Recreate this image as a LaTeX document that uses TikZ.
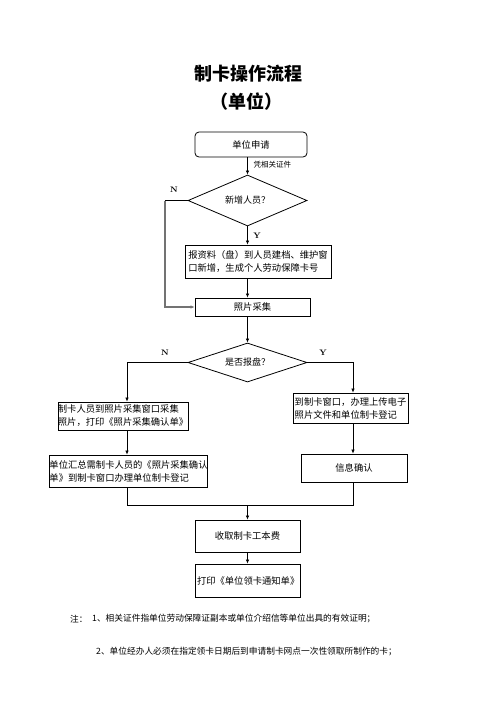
\documentclass[tikz,border=0pt]{standalone}
\usepackage{fontspec}
\newfontfamily\cjk{Noto Sans CJK SC}
\usetikzlibrary{shapes.geometric,arrows.meta}

\begin{document}
\begin{tikzpicture}[x=1pt,y=-1pt,
                    box/.style={draw, line width=0.8pt, inner sep=0pt, align=left,
                                font=\cjk\fontsize{9.3}{13}\selectfont},
                    decision/.style={draw, diamond, aspect=2.3, inner sep=0pt, line width=0.8pt,
                                     minimum width=119pt, font=\cjk\fontsize{9}{11}\selectfont},
                    line/.style={line width=0.7pt},
                    flow/.style={line, -{Latex[length=4pt,width=3.5pt]}},
                    tag/.style={font=\bfseries\fontsize{8}{9}\selectfont},
                    note/.style={anchor=west, inner sep=0pt, font=\cjk\fontsize{8.7}{10}\selectfont}]
  \useasboundingbox (0,0) rectangle (496,702);
  % title
  \node[font=\cjk\bfseries\fontsize{18}{20}\selectfont] (title) at (248,74) {制卡操作流程};
  \node[font=\cjk\bfseries\fontsize{18}{20}\selectfont] (subtitle) at (246,102) {（单位）};
  % steps
  \node[box, rounded corners=4pt, minimum width=112pt, minimum height=25pt] (apply) at (251,144.5) {单位申请};
  \node[anchor=west, font=\cjk\fontsize{7.5}{9}\selectfont] (proof) at (250,165) {凭相关证件};
  \node[decision, minimum height=51pt] (newp) at (247.5,200.5) {新增人员？};
  \node[box, minimum width=146pt, minimum height=33pt] (archive) at (258,261.5)
    {报资料（盘）到人员建档、维护窗\\口新增，生成个人劳动保障卡号};
  \node[box, minimum width=115pt, minimum height=18pt] (photo) at (252.5,307) {照片采集};
  \node[decision, minimum height=39pt] (disk) at (247.5,362.5) {是否报盘？};
  \node[box, minimum width=130pt, minimum height=28pt] (shoot) at (123,416)
    {制卡人员到照片采集窗口采集\\照片，打印《照片采集确认单》};
  \node[box, minimum width=157pt, minimum height=32pt] (collect) at (128.5,471)
    {单位汇总需制卡人员的《照片采集确认\\单》到制卡窗口办理单位制卡登记};
  \node[box, minimum width=115pt, minimum height=30pt] (upload) at (350.5,408)
    {到制卡窗口，办理上传电子\\照片文件和单位制卡登记};
  \node[box, minimum width=106pt, minimum height=28pt] (check) at (354,468) {信息确认};
  \node[box, minimum width=105pt, minimum height=32pt] (fee) at (247.5,536) {收取制卡工本费};
  \node[box, minimum width=105pt, minimum height=33pt, text width=101pt] (notice) at (247.5,580.5)
    {打印《单位领卡通知单》};
  % branch tags
  \node[tag] (newn) at (174,190) {N};
  \node[tag] (newy) at (257,236) {Y};
  \node[tag] (diskn) at (165,353) {N};
  \node[tag] (disky) at (323,353) {Y};
  % helper points
  \coordinate (nloop) at (165,200.5);
  \coordinate (lcol) at (127,362.5);
  \coordinate (rcol) at (353,362.5);
  \coordinate (merge) at (247.5,505.5);
  % connectors
  \draw[flow] (newp.north |- apply.south) -- (newp.north);
  \draw[flow] (newp.south) -- (newp.south |- archive.north);
  \draw[flow] (newp.south |- archive.south) -- (newp.south |- photo.north);
  \draw[line] (newp.west) -- (nloop);
  \draw[flow, black!55, line width=1.4pt] (nloop) |- (photo.west);
  \draw[flow] (disk.north |- photo.south) -- (disk.north);
  \draw[flow] (disk.west) -- (lcol) -- (lcol |- shoot.north);
  \draw[flow] (disk.east) -- (rcol) -- (rcol |- upload.north);
  \draw[flow] (lcol |- shoot.south) -- (lcol |- collect.north);
  \draw[flow] (rcol |- upload.south) -- (rcol |- check.north);
  \draw[line] (lcol |- collect.south) -- (lcol |- merge) -- (rcol |- merge) -- (rcol |- check.south);
  \draw[flow] (merge) -- (fee.north);
  \draw[flow] (fee) -- (notice);
  % notes
  \node[note] (notehead) at (70,619) {注：};
  \node[note] (note1) at (92,619) {1、相关证件指单位劳动保障证副本或单位介绍信等单位出具的有效证明；};
  \node[note] (note2) at (96,652) {2、单位经办人必须在指定领卡日期后到申请制卡网点一次性领取所制作的卡；};
\end{tikzpicture}
\end{document}
